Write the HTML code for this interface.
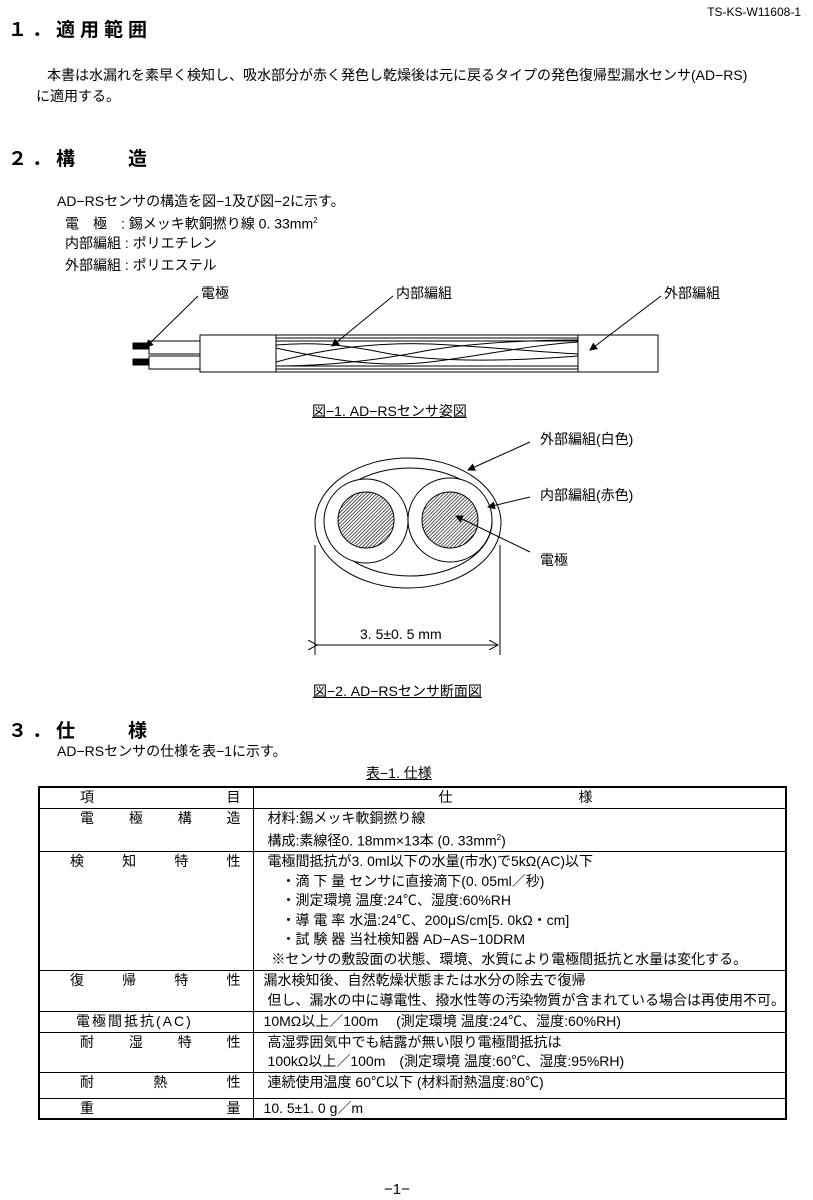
<!DOCTYPE html>
<html><head><meta charset="utf-8"><style>
body{margin:0;width:813px;height:1200px;background:#fff;position:relative;overflow:hidden;font-family:"Liberation Sans","Noto Sans CJK JP",sans-serif;color:#000}
.t{position:absolute;white-space:nowrap;font-size:14px;line-height:16px}
.h{font-size:19px;line-height:22px;letter-spacing:5px;font-weight:bold}
u{text-decoration:underline}
table{position:absolute;left:38px;top:786px;width:749px;border-collapse:collapse;border:2px solid #000;font-size:14px}
td{border:1.5px solid #000;padding:0 0 0 14px;vertical-align:top;line-height:19.5px;white-space:nowrap}
td.k{width:190px;padding:0 12px 0 40px;letter-spacing:0}
.sp{display:flex;justify-content:space-between}
</style></head><body>
<div class="t" style="right:12px;top:4px;font-size:12px">TS-KS-W11608-1</div>
<div class="t h" style="left:8px;top:20px">１．適用範囲</div>
<div class="t" style="left:47px;top:67px">本書は水漏れを素早く検知し、吸水部分が赤く発色し乾燥後は元に戻るタイプの発色復帰型漏水センサ(AD−RS)</div>
<div class="t" style="left:36px;top:88px">に適用する。</div>
<div class="t h" style="left:8px;top:149px">２．構　　造</div>
<div class="t" style="left:57px;top:193px">AD−RSセンサの構造を図−1及び図−2に示す。</div>
<div class="t" style="left:65px;top:213px">電　極　: 錫メッキ軟銅撚り線 0. 33mm<sup style="font-size:8px">2</sup></div>
<div class="t" style="left:65px;top:235px">内部編組 : ポリエチレン</div>
<div class="t" style="left:65px;top:257px">外部編組 : ポリエステル</div>
<div class="t" style="left:201px;top:285px">電極</div>
<div class="t" style="left:396px;top:285px">内部編組</div>
<div class="t" style="left:664px;top:285px">外部編組</div>
<svg style="position:absolute;left:0;top:0" width="813" height="1200">
<defs>
<marker id="a" markerWidth="8" markerHeight="8" refX="7" refY="4" orient="auto"><path d="M0,0 L8,4 L0,8z" fill="#000"/></marker>
<pattern id="hp" width="2.5" height="2.5" patternUnits="userSpaceOnUse" patternTransform="rotate(45)"><rect width="2.5" height="2.5" fill="#fff"/><line x1="0" y1="0" x2="0" y2="2.5" stroke="#000" stroke-width="1.3"/></pattern>
<marker id="o" markerWidth="10" markerHeight="10" refX="9" refY="5" orient="auto"><path d="M0,0 L9,5 L0,10" fill="none" stroke="#000"/></marker>
</defs>
<g stroke="#000" fill="#fff" stroke-width="1">
<rect x="133" y="343" width="16" height="6" fill="#000"/>
<rect x="133" y="359" width="16" height="6" fill="#000"/>
<rect x="149" y="341" width="52" height="13"/>
<rect x="149" y="356" width="52" height="13"/>
<rect x="200" y="335" width="458" height="37"/>
<line x1="276" y1="335" x2="276" y2="372"/>
<line x1="578" y1="335" x2="578" y2="372"/>
<line x1="276" y1="338" x2="578" y2="338"/><line x1="276" y1="341" x2="578" y2="341"/>
<line x1="276" y1="366" x2="578" y2="366"/><line x1="276" y1="369" x2="578" y2="369"/>
<path d="M276,348 C330,360 380,368 430,362 C480,356 530,345 578,342" fill="none"/>
<path d="M276,345 C310,342 340,344 380,352 C430,362 500,362 578,356" fill="none"/>
<path d="M276,362 C320,350 380,340 450,345 C500,348 540,352 578,354" fill="none"/>
<path d="M276,366 C330,366 380,360 430,350 C480,342 540,340 578,340" fill="none"/>
</g>
<g stroke="#000" stroke-width="1" fill="none">
<line x1="198" y1="296" x2="146" y2="347" marker-end="url(#a)"/>
<line x1="393" y1="296" x2="332" y2="346" marker-end="url(#a)"/>
<line x1="661" y1="296" x2="590" y2="350" marker-end="url(#a)"/>
<ellipse cx="408" cy="523" rx="93" ry="65"/>
<ellipse cx="410" cy="522" rx="82" ry="54"/>
<circle cx="366" cy="521" r="42" fill="#fff"/>
<circle cx="450" cy="520" r="42" fill="#fff"/>
<circle cx="366" cy="520" r="28" fill="url(#hp)"/>
<circle cx="450" cy="520" r="28" fill="url(#hp)"/>
<line x1="530" y1="442" x2="468" y2="470" marker-end="url(#a)"/>
<line x1="530" y1="497" x2="488" y2="507" marker-end="url(#a)"/>
<line x1="530" y1="552" x2="456" y2="516" marker-end="url(#a)"/>
<line x1="315" y1="545" x2="315" y2="655"/>
<line x1="500" y1="545" x2="500" y2="655"/>
<line x1="317" y1="645" x2="498" y2="645" marker-end="url(#o)" marker-start="url(#o)"/>
</g>
</svg>
<div class="t" style="left:312px;top:403px"><u>図−1. AD−RSセンサ姿図</u></div>
<div class="t" style="left:540px;top:431px">外部編組(白色)</div>
<div class="t" style="left:540px;top:487px">内部編組(赤色)</div>
<div class="t" style="left:540px;top:552px">電極</div>
<div class="t" style="left:360px;top:626px">3. 5±0. 5 mm</div>
<div class="t" style="left:313px;top:683px"><u>図−2. AD−RSセンサ断面図</u></div>
<div class="t h" style="left:8px;top:721px">３．仕　　様</div>
<div class="t" style="left:57px;top:743px">AD−RSセンサの仕様を表−1に示す。</div>
<div class="t" style="left:366px;top:765px"><u>表−1. 仕様</u></div>
<table>
<tr style="height:20px"><td class="k"><div class="sp"><span>項</span><span>目</span></div></td><td style="padding-left:185px">仕　　　　　　　　　様</td></tr>
<tr style="height:40px"><td class="k"><div class="sp"><span>電</span><span>極</span><span>構</span><span>造</span></div></td><td>材料:錫メッキ軟銅撚り線<br>構成:素線径0. 18mm×13本 (0. 33mm<sup style="font-size:8px">2</sup>)</td></tr>
<tr style="height:119px"><td class="k" style="padding-left:30px"><div class="sp"><span>検</span><span>知</span><span>特</span><span>性</span></div></td><td>電極間抵抗が3. 0ml以下の水量(市水)で5kΩ(AC)以下<br>　・滴 下 量 センサに直接滴下(0. 05ml／秒)<br>　・測定環境 温度:24℃、湿度:60%RH<br>　・導 電 率 水温:24℃、200μS/cm[5. 0kΩ・cm]<br>　・試 験 器 当社検知器 AD−AS−10DRM<br>&nbsp;※センサの敷設面の状態、環境、水質により電極間抵抗と水量は変化する。</td></tr>
<tr style="height:41px"><td class="k" style="padding-left:30px"><div class="sp"><span>復</span><span>帰</span><span>特</span><span>性</span></div></td><td style="padding-left:10px">漏水検知後、自然乾燥状態または水分の除去で復帰<br>&nbsp;但し、漏水の中に導電性、撥水性等の汚染物質が含まれている場合は再使用不可。</td></tr>
<tr style="height:20px"><td class="k" style="padding-left:36px;letter-spacing:2px">電極間抵抗(AC)</td><td style="padding-left:10px">10MΩ以上／100m　 (測定環境 温度:24℃、湿度:60%RH)</td></tr>
<tr style="height:40px"><td class="k"><div class="sp"><span>耐</span><span>湿</span><span>特</span><span>性</span></div></td><td>高湿雰囲気中でも結露が無い限り電極間抵抗は<br>100kΩ以上／100m　(測定環境 温度:60℃、湿度:95%RH)</td></tr>
<tr style="height:26px"><td class="k"><div class="sp"><span>耐</span><span>熱</span><span>性</span></div></td><td>連続使用温度 60℃以下 (材料耐熱温度:80℃)</td></tr>
<tr style="height:20px"><td class="k"><div class="sp"><span>重</span><span>量</span></div></td><td style="padding-left:10px">10. 5±1. 0 g／m</td></tr>
</table>
<div class="t" style="left:384px;top:1182px;font-size:15px">−1−</div>
</body></html>
